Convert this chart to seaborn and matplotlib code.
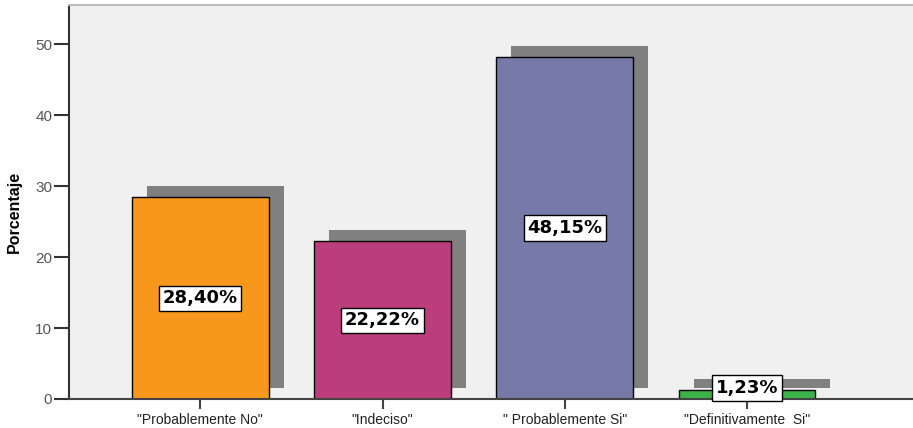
import numpy as np
import pandas as pd
import matplotlib
matplotlib.use("Agg")
import matplotlib.pyplot as plt
import matplotlib.transforms as mtransforms
import seaborn as sns

# Datos
categorias = ['"Probablemente No"', '"Indeciso"', '" Probablemente Si"', '"Definitivamente  Si"']
porcentajes = [28.40, 22.22, 48.15, 1.23]
etiquetas = ['28,40%', '22,22%', '48,15%', '1,23%']
colores = ['#F7981D', '#BC3D7C', '#7779A8', '#3CB34A']
ticks_y = [0, 10, 20, 30, 40, 50]

df = pd.DataFrame({"Categoria": categorias, "Porcentaje": porcentajes})

sns.set_theme(style="white")
plt.rcParams['font.family'] = ['Liberation Sans', 'DejaVu Sans']

fig = plt.figure(figsize=(9.13, 4.28), dpi=100)
ax = fig.add_axes([69 / 913, 29 / 428, 844 / 913, 394 / 428])
ax.set_facecolor('#F0F0F0')

# sombras (barras grises desplazadas)
sns.barplot(data=df, x="Categoria", y="Porcentaje", color='#808080',
            width=0.75, linewidth=0, saturation=1, ax=ax, zorder=1)
n_sombras = len(ax.patches)
desplaz = mtransforms.ScaledTranslation(15 / 100, 11 / 100, fig.dpi_scale_trans)
for p in ax.patches[:n_sombras]:
    p.set_transform(ax.transData + desplaz)
    p.set_edgecolor('none')

# barras principales
sns.barplot(data=df, x="Categoria", y="Porcentaje", hue="Categoria",
            palette=colores, width=0.75, edgecolor='black', linewidth=1,
            saturation=1, legend=False, ax=ax, zorder=2)

# etiquetas de porcentaje
for i, (v, t) in enumerate(zip(porcentajes, etiquetas)):
    ax.text(i, max(v / 2, 1.55), t, ha='center', va='center', fontsize=13,
            fontweight='bold', family='DejaVu Sans', color='black', zorder=5,
            bbox=dict(boxstyle='square,pad=0.2', fc='white', ec='black', lw=1))

ax.set_xlim(-0.72, 3.91)
ax.set_ylim(0, 55.5)
ax.set_yticks(ticks_y)
ax.set_xlabel('')
ax.set_ylabel('Porcentaje', fontsize=11.5, fontweight='bold', color='black')
ax.yaxis.set_label_coords(-0.056, 0.475)

ax.tick_params(axis='y', direction='out', length=11, width=1.5, color='#333333',
               pad=1, labelsize=11, labelcolor='#555555', left=True)
ax.tick_params(axis='x', direction='out', length=7, width=1.5, color='#444444',
               pad=3, labelsize=10, labelcolor='#222222', bottom=True)

ax.spines['right'].set_visible(False)
ax.spines['top'].set_color('#BBBBBB')
ax.spines['top'].set_linewidth(1.5)
ax.spines['left'].set_color('#333333')
ax.spines['left'].set_linewidth(1.5)
ax.spines['bottom'].set_color('#444444')
ax.spines['bottom'].set_linewidth(1.5)

fig.savefig("out.png", dpi=100)
